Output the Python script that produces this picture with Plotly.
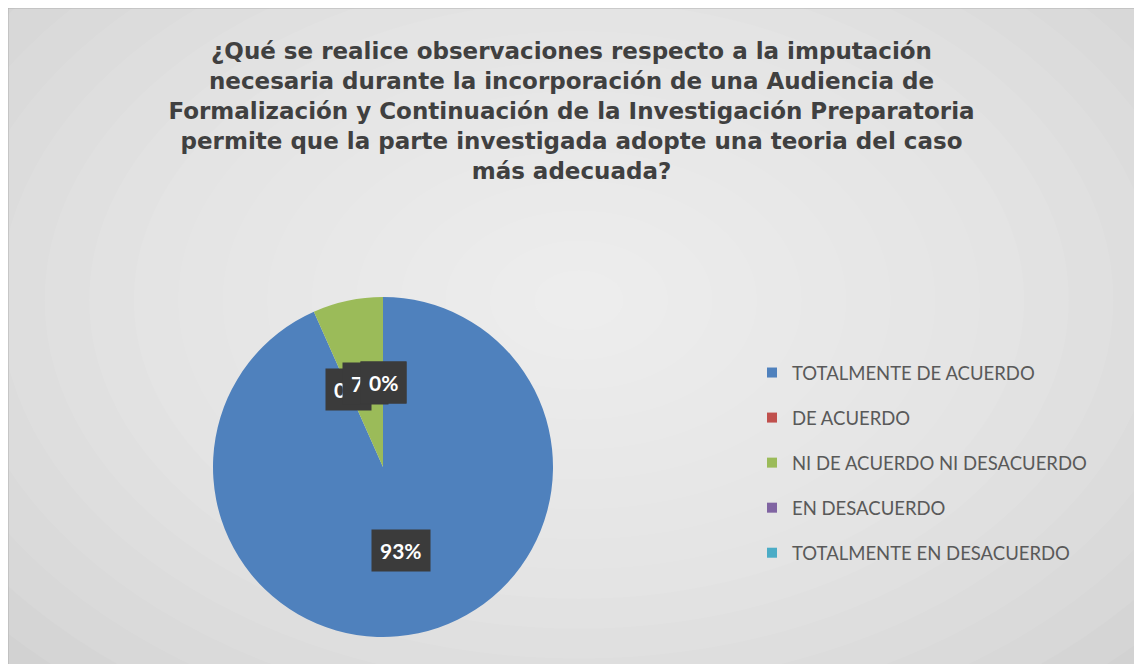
import numpy as np
import plotly.graph_objects as go

categories = ["TOTALMENTE DE ACUERDO", "DE ACUERDO", "NI DE ACUERDO NI DESACUERDO",
              "EN DESACUERDO", "TOTALMENTE EN DESACUERDO"]
counts = [14, 0, 1, 0, 0]
colors = ["#4f81bd", "#c0504d", "#9bbb59", "#8064a2", "#4bacc6"]

title = ("¿Qué se realice observaciones respecto a la imputación<br>"
         "necesaria durante la incorporación de una Audiencia de<br>"
         "Formalización y Continuación de la Investigación Preparatoria<br>"
         "permite que la parte investigada adopte una teoria del caso<br>"
         "más adecuada?")

W, H = 1142, 664
OFF = 8  # page body margin pushes the figure 8px right/down

def px(x):
    return (x - OFF) / W

def py(y):
    return 1 - (y - OFF) / H

# pie geometry (screen pixels)
cx, cy, R = 383, 467, 170

fig = go.Figure()

fig.add_trace(go.Pie(
    labels=categories, values=counts, sort=False, direction="clockwise",
    rotation=0, marker=dict(colors=colors), textinfo="none",
    showlegend=False, hoverinfo="label+percent",
    domain=dict(x=[px(cx - R), px(cx + R)], y=[py(cy + R), py(cy - R)]),
))

# legend entries as dummy traces so the spacing can be set
for name, col in zip(categories, colors):
    fig.add_trace(go.Scatter(x=[None], y=[None], mode="markers", name=name,
                             legendgroup=name,
                             marker=dict(symbol="square", size=10, color=col)))

# data labels in dark boxes at about half radius of each slice
total = sum(counts)
cum = 0
for v in counts:
    frac = v / total
    mid = (cum + frac / 2) * 2 * np.pi
    cum += frac
    r = R * 0.5
    fig.add_annotation(x=px(cx + r * np.sin(mid)), y=py(cy - r * np.cos(mid)),
                       xref="paper", yref="paper", xanchor="center", yanchor="middle",
                       text=f"<b>{round(frac * 100)}%</b>",
                       showarrow=False, bgcolor="#3b3b3b", borderpad=8,
                       font=dict(family="Lato", size=21, color="white"))

# soft radial background
shapes = [dict(type="rect", xref="paper", yref="paper", x0=0, x1=1, y0=0, y1=1,
               fillcolor="#c9c9c9", line_width=0, layer="below")]
n = 20
for k in range(n):
    s = 1 - k / n
    shapes.append(dict(type="circle", xref="paper", yref="paper",
                       x0=0.5 - 0.78 * s, x1=0.5 + 0.78 * s,
                       y0=0.56 - 0.9 * s, y1=0.56 + 0.9 * s,
                       fillcolor="white", opacity=0.07, line_width=0, layer="below"))
shapes.append(dict(type="line", xref="paper", yref="paper", x0=0, x1=0, y0=0, y1=1,
                   line=dict(color="#b0b0b0", width=1), layer="below"))
shapes.append(dict(type="line", xref="paper", yref="paper", x0=0, x1=1, y0=1, y1=1,
                   line=dict(color="#b0b0b0", width=1), layer="below"))

fig.update_layout(
    width=W, height=H,
    margin=dict(l=0, r=0, t=0, b=0),
    paper_bgcolor="#c9c9c9", plot_bgcolor="rgba(0,0,0,0)",
    shapes=shapes,
    title=dict(text=title, x=0.5 - 7.5 / W, xanchor="center", y=py(59), yanchor="top",
               font=dict(family="DejaVu Sans", size=23, color="#404040", weight="bold")),
    xaxis=dict(visible=False), yaxis=dict(visible=False),
    legend=dict(x=px(752), y=py(354), xanchor="left", yanchor="top", tracegroupgap=18,
                bgcolor="rgba(0,0,0,0)", itemwidth=30,
                font=dict(family="Lato", size=18.5, color="#595959")),
)

fig.write_html("out.html")
